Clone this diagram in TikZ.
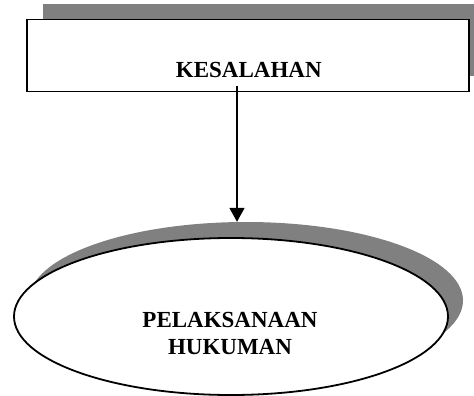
\documentclass[tikz,border=0pt]{standalone}
\usepackage{fontspec}
\setmainfont{Liberation Serif}
\usetikzlibrary{shapes.geometric,arrows.meta}
\definecolor{shadowgray}{RGB}{128,128,128}
\begin{document}
\begin{tikzpicture}[x=1pt,y=-1pt,
  boxshape/.style={rectangle,minimum width=442pt,minimum height=72pt,inner sep=0pt},
  ellshape/.style={ellipse,minimum width=434pt,minimum height=157pt,inner sep=0pt},
  shadowfill/.style={fill=shadowgray,draw=none},
  mainline/.style={draw=black,fill=white,line width=1.8pt},
  lbl/.style={font=\fontsize{23}{27}\selectfont\bfseries,inner sep=0pt,align=center},
  conn/.style={line width=1.7pt,-{Triangle[width=15pt,length=14pt]}}]
\useasboundingbox (0,0) rectangle (474,396);
\clip (0,0) rectangle (474,396);
% box with shadow
\node[boxshape,shadowfill] (kesshadow) at (264,40) {};
\node[boxshape,mainline] (kes) at (248,55.5) {};
\node[lbl] (kestext) at (248.8,70.4) {KESALAHAN};
% ellipse with shadow
\node[ellshape,shadowfill] (ellshadow) at (246,300.5) {};
\node[ellshape,mainline] (ell) at (231,316.5) {};
\node[lbl] (elltext) at (230,333.5) {PELAKSANAAN\\HUKUMAN};
% connector
\coordinate (start) at (237,86);
\draw[conn] (start) -- (start |- ellshadow.north);
\end{tikzpicture}
\end{document}
